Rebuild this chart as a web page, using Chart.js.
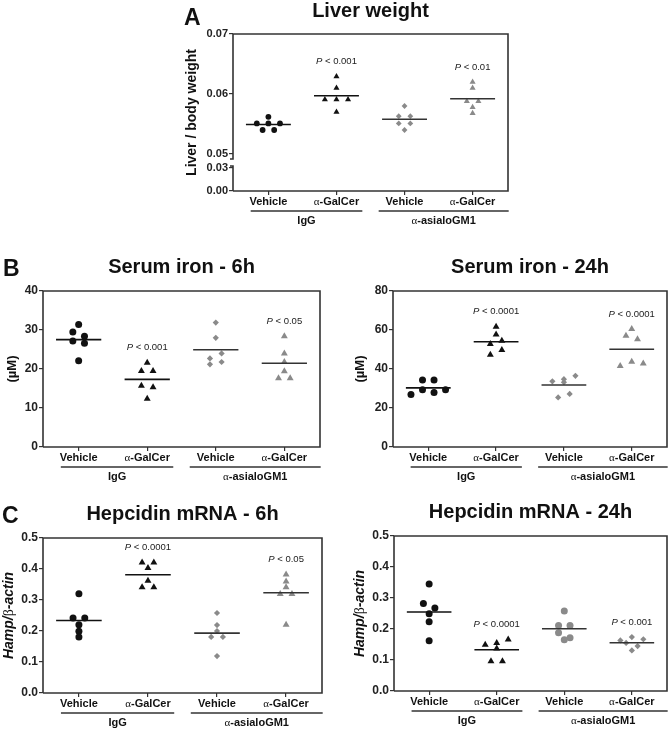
<!DOCTYPE html>
<html lang="en">
<head>
<meta charset="UTF-8">
<title>Liver weight, serum iron and hepcidin</title>
<script src="https://cdn.jsdelivr.net/npm/chart.js"></script>
<style>
  body { margin: 0; background: #fff; width: 671px; height: 730px; position: relative; overflow: hidden; }
  canvas { position: absolute; }
</style>
</head>
<body>
<canvas id="liver"></canvas>
<canvas id="serum6"></canvas>
<canvas id="serum24"></canvas>
<canvas id="hep6"></canvas>
<canvas id="hep24"></canvas>
<script>
// groups in x order: IgG+Vehicle, IgG+aGalCer, asialoGM1+Vehicle, asialoGM1+aGalCer
const categories = ['Vehicle', 'α-GalCer', 'Vehicle', 'α-GalCer'];
const treatments = ['IgG', 'α-asialoGM1'];

// A - liver / body weight
const liverVehIgG    = [0.0562, 0.0551, 0.0551, 0.0551, 0.0540, 0.0540];
const liverGalIgG    = [0.0629, 0.0610, 0.0591, 0.0591, 0.0591, 0.0570];
const liverVehAsialo = [0.0580, 0.0563, 0.0563, 0.0551, 0.0551, 0.0540];
const liverGalAsialo = [0.0620, 0.0610, 0.0588, 0.0588, 0.0578, 0.0568];
const liverTicks = [0, 0.03, 0.05, 0.06, 0.07];
const liverP = [null, '< 0.001', null, '< 0.01'];

// B - serum iron (uM)
const serum6VehIgG    = [31.4, 29.5, 28.4, 27.2, 26.6, 22.1];
const serum6GalIgG    = [21.6, 19.5, 19.5, 15.7, 15.3, 12.4];
const serum6VehAsialo = [31.9, 28.0, 22.7, 24.0, 21.2, 21.8];
const serum6GalAsialo = [28.4, 24.0, 21.8, 19.4, 17.6, 17.6];
const serum6Ticks = [0, 10, 20, 30, 40];
const serum6P = [null, '< 0.001', null, '< 0.05'];

const serum24VehIgG    = [34.3, 34.3, 26.9, 29.3, 27.9, 29.3];
const serum24GalIgG    = [61.7, 57.7, 52.8, 54.5, 47.3, 49.8];
const serum24VehAsialo = [33.7, 34.8, 36.5, 33.2, 25.4, 27.2];
const serum24GalAsialo = [60.5, 57.0, 55.3, 41.5, 43.7, 42.8];
const serum24Ticks = [0, 20, 40, 60, 80];
const serum24P = [null, '< 0.0001', null, '< 0.0001'];

// C - hepcidin mRNA (Hamp / beta-actin)
const hep6VehIgG    = [0.320, 0.242, 0.242, 0.220, 0.199, 0.181];
const hep6GalIgG    = [0.421, 0.421, 0.403, 0.362, 0.341, 0.341];
const hep6VehAsialo = [0.258, 0.219, 0.200, 0.181, 0.181, 0.119];
const hep6GalAsialo = [0.382, 0.360, 0.341, 0.319, 0.319, 0.220];
const hep6P = [null, '< 0.0001', null, '< 0.05'];

const hep24VehIgG    = [0.345, 0.282, 0.268, 0.249, 0.223, 0.162];
const hep24GalIgG    = [0.149, 0.155, 0.166, 0.137, 0.096, 0.096];
const hep24VehAsialo = [0.258, 0.211, 0.211, 0.188, 0.172, 0.165];
const hep24GalAsialo = [0.163, 0.174, 0.167, 0.155, 0.145, 0.131];
const hep24P = [null, '< 0.0001', null, '< 0.001'];
const hepTicks = [0, 0.1, 0.2, 0.3, 0.4, 0.5];

// ---- drawing ----
const SANS = '"Liberation Sans", Arial, sans-serif';
const SERIF = '"Liberation Serif", "Times New Roman", serif';
const BLACK = '#111';
const GREY = '#8a8a8a';
const ROW_GAP = 5.5;   // px: points closer than this share a row
const STEP = 0.17;     // x units between neighbours in a row

// axis with a break between 0.03 and 0.05
function liverAxis(v) {
  return v <= 0.03 ? v / 0.03 * 23 : 37 + (v - 0.05) * 6000;
}
const same = v => v;

const hampTitle = [
  { t: 'Hamp/', f: 'italic bold 14px ' + SANS },
  { t: 'β', f: '14px ' + SERIF },
  { t: '-actin', f: 'italic bold 14px ' + SANS }
];

const panels = [
  { id: 'liver', left: 150, top: 0, width: 380, height: 235,
    area: { l: 233, t: 34, r: 508, b: 191 }, small: true, broken: true,
    title: 'Liver weight', titleY: 17, letter: 'A', letterX: 184, letterY: 25,
    yTitle: [{ t: 'Liver / body weight', f: 'bold 14px ' + SANS }], yTitleX: 192,
    groups: [liverVehIgG, liverGalIgG, liverVehAsialo, liverGalAsialo], pLabels: liverP,
    ticks: liverTicks, fmt: v => v.toFixed(2), toAxis: liverAxis, yMax: 0.07,
    marks: [['circle', BLACK], ['triangle', BLACK], ['rectRot', GREY], ['triangle', GREY]] },
  { id: 'serum6', left: 0, top: 240, width: 335, height: 245,
    area: { l: 43, t: 291, r: 320, b: 447 },
    title: 'Serum iron - 6h', titleY: 273, letter: 'B', letterX: 3, letterY: 276,
    yTitle: [{ t: '(µM)', f: 'bold 13px ' + SANS }], yTitleX: 12,
    groups: [serum6VehIgG, serum6GalIgG, serum6VehAsialo, serum6GalAsialo], pLabels: serum6P,
    ticks: serum6Ticks, fmt: v => String(v), toAxis: same, yMax: 40,
    marks: [['circle', BLACK], ['triangle', BLACK], ['rectRot', GREY], ['triangle', GREY]] },
  { id: 'serum24', left: 335, top: 240, width: 336, height: 245,
    area: { l: 393, t: 291, r: 667, b: 447 },
    title: 'Serum iron - 24h', titleY: 273,
    yTitle: [{ t: '(µM)', f: 'bold 13px ' + SANS }], yTitleX: 360,
    groups: [serum24VehIgG, serum24GalIgG, serum24VehAsialo, serum24GalAsialo], pLabels: serum24P,
    ticks: serum24Ticks, fmt: v => String(v), toAxis: same, yMax: 80,
    marks: [['circle', BLACK], ['triangle', BLACK], ['rectRot', GREY], ['triangle', GREY]] },
  { id: 'hep6', left: 0, top: 490, width: 335, height: 240,
    area: { l: 43, t: 538, r: 322, b: 693 },
    title: 'Hepcidin mRNA - 6h', titleY: 520, letter: 'C', letterX: 2, letterY: 523,
    yTitle: hampTitle, yTitleX: 9,
    groups: [hep6VehIgG, hep6GalIgG, hep6VehAsialo, hep6GalAsialo], pLabels: hep6P,
    ticks: hepTicks, fmt: v => v.toFixed(1), toAxis: same, yMax: 0.5,
    marks: [['circle', BLACK], ['triangle', BLACK], ['rectRot', GREY], ['triangle', GREY]] },
  { id: 'hep24', left: 335, top: 490, width: 336, height: 240,
    area: { l: 394, t: 536, r: 667, b: 691 },
    title: 'Hepcidin mRNA - 24h', titleY: 518,
    yTitle: hampTitle, yTitleX: 360,
    groups: [hep24VehIgG, hep24GalIgG, hep24VehAsialo, hep24GalAsialo], pLabels: hep24P,
    ticks: hepTicks, fmt: v => v.toFixed(1), toAxis: same, yMax: 0.5,
    marks: [['circle', BLACK], ['triangle', BLACK], ['circle', GREY], ['rectRot', GREY]] }
];

// spread points that sit at nearly the same height into a row
function swarm(ys, pxPerUnit) {
  const order = ys.map((v, i) => i).sort((a, b) => ys[b] - ys[a]);
  const rows = [];
  let row = null;
  order.forEach(i => {
    if (row && (ys[row.start] - ys[i]) * pxPerUnit < ROW_GAP) row.items.push(i);
    else { row = { start: i, items: [i] }; rows.push(row); }
  });
  const offs = ys.map(() => 0);
  rows.forEach(r => {
    r.items.sort((a, b) => a - b);
    r.items.forEach((idx, k) => { offs[idx] = (k - (r.items.length - 1) / 2) * STEP; });
  });
  return offs;
}

function richText(ctx, parts, x, y) {
  let w = 0;
  parts.forEach(p => { ctx.font = p.f; w += ctx.measureText(p.t).width; });
  let cx = x - w / 2;
  ctx.textAlign = 'left';
  parts.forEach(p => { ctx.font = p.f; ctx.fillText(p.t, cx, y); cx += ctx.measureText(p.t).width; });
}

function labelParts(text, size) {
  if (text.startsWith('α')) {
    return [{ t: 'α', f: size + 'px ' + SERIF }, { t: text.slice(1), f: 'bold ' + size + 'px ' + SANS }];
  }
  return [{ t: text, f: 'bold ' + size + 'px ' + SANS }];
}

const decor = {
  id: 'decor',
  afterDraw(chart, args, opts) {
    const p = opts.panel;
    const ctx = chart.ctx;
    const a = chart.chartArea;
    const xs = chart.scales.x, ys = chart.scales.y;
    ctx.save();
    ctx.fillStyle = '#111';
    ctx.textBaseline = 'alphabetic';

    // frame
    ctx.strokeStyle = '#333';
    ctx.lineWidth = 1.6;
    ctx.beginPath();
    ctx.moveTo(a.left, a.bottom); ctx.lineTo(a.right, a.bottom);
    ctx.lineTo(a.right, a.top); ctx.lineTo(a.left, a.top);
    if (p.broken) {
      const y1 = ys.getPixelForValue(p.toAxis(0.05)) + 5;
      const y2 = ys.getPixelForValue(p.toAxis(0.03)) - 2;
      ctx.lineTo(a.left, y1); ctx.lineTo(a.left - 3, y1);
      ctx.moveTo(a.left - 3, y2); ctx.lineTo(a.left, y2); ctx.lineTo(a.left, a.bottom);
    } else {
      ctx.lineTo(a.left, a.bottom);
    }
    ctx.stroke();

    // titles
    ctx.font = 'bold 20px ' + SANS;
    ctx.textAlign = 'center';
    ctx.fillText(p.title, (a.left + a.right) / 2, p.titleY - p.top);
    if (p.letter) {
      ctx.font = 'bold 23px ' + SANS;
      ctx.textAlign = 'left';
      ctx.fillText(p.letter, p.letterX - p.left, p.letterY - p.top);
    }

    // y title
    ctx.save();
    ctx.translate(p.yTitleX - p.left, (a.top + a.bottom) / 2);
    ctx.rotate(-Math.PI / 2);
    ctx.textBaseline = 'middle';
    richText(ctx, p.yTitle, 0, 0);
    ctx.restore();

    // category and treatment labels
    ctx.textBaseline = 'middle';
    categories.forEach((c, i) => richText(ctx, labelParts(c, 11), xs.getPixelForValue(i + 1), a.bottom + 11));
    ctx.strokeStyle = '#333';
    ctx.lineWidth = 1.3;
    [[0.74, 2.38], [2.62, 4.53]].forEach((span, k) => {
      const x1 = xs.getPixelForValue(span[0]), x2 = xs.getPixelForValue(span[1]);
      ctx.beginPath();
      ctx.moveTo(x1, a.bottom + 20); ctx.lineTo(x2, a.bottom + 20);
      ctx.stroke();
      richText(ctx, labelParts(treatments[k], 11), (x1 + x2) / 2, a.bottom + 30);
    });

    // P values
    ctx.fillStyle = '#222';
    p.pLabels.forEach((lbl, g) => {
      if (!lbl) return;
      const top = Math.max(...p.groups[g].map(p.toAxis));
      richText(ctx, [{ t: 'P', f: 'italic 9.5px ' + SANS }, { t: ' ' + lbl, f: '9.5px ' + SANS }],
        xs.getPixelForValue(g + 1), ys.getPixelForValue(top) - 15);
    });
    ctx.restore();
  }
};

panels.forEach(p => {
  const cv = document.getElementById(p.id);
  cv.width = p.width; cv.height = p.height;
  cv.style.left = p.left + 'px'; cv.style.top = p.top + 'px';
  const yMax = p.toAxis(p.yMax);
  const pxPerUnit = (p.area.b - p.area.t) / yMax;
  const radii = p.small ? { circle: 2.9, triangle: 3.5, rectRot: 2.9 }
                        : { circle: 3.5, triangle: 4.0, rectRot: 3.1 };
  const datasets = [];
  p.groups.forEach((vals, g) => {
    const yv = vals.map(p.toAxis);
    const offs = swarm(yv, pxPerUnit);
    const [style, color] = p.marks[g];
    datasets.push({
      data: yv.map((y, i) => ({ x: g + 1 + offs[i], y })),
      pointStyle: style, pointRadius: radii[style], pointHoverRadius: radii[style],
      backgroundColor: color, borderWidth: 0, order: 2
    });
    const mean = yv.reduce((s, v) => s + v, 0) / yv.length;
    datasets.push({
      data: [{ x: g + 0.67, y: mean }, { x: g + 1.33, y: mean }],
      showLine: true, pointRadius: 0, borderColor: g < 2 ? '#111' : '#333',
      borderWidth: 1.6, order: 1
    });
  });

  new Chart(cv, {
    type: 'scatter',
    data: { datasets },
    options: {
      responsive: false,
      animation: false,
      devicePixelRatio: 1,
      layout: { padding: { top: p.area.t - p.top, right: p.left + p.width - p.area.r, left: 0, bottom: 0 } },
      plugins: { legend: { display: false }, tooltip: { enabled: false }, decor: { panel: p } },
      scales: {
        x: {
          type: 'linear', min: 0.48, max: 4.52,
          afterBuildTicks: s => { s.ticks = [1, 2, 3, 4].map(v => ({ value: v })); },
          afterFit: s => { s.height = p.top + p.height - p.area.b; },
          ticks: { display: false },
          grid: { drawOnChartArea: false, drawTicks: true, tickLength: 4, color: '#333', lineWidth: 1.2 },
          border: { display: false }
        },
        y: {
          min: 0, max: yMax,
          afterBuildTicks: s => { s.ticks = p.ticks.map(v => ({ value: p.toAxis(v) })); },
          afterFit: s => { s.width = p.area.l - p.left; },
          ticks: {
            padding: 1, color: '#222',
            font: { family: SANS, size: p.small ? 11 : 12, weight: 'bold' },
            callback: (val, i) => p.fmt(p.ticks[i])
          },
          grid: { drawOnChartArea: false, drawTicks: true, tickLength: 4, color: '#333', lineWidth: 1.2 },
          border: { display: false }
        }
      }
    },
    plugins: [decor]
  });
});
</script>
</body>
</html>
